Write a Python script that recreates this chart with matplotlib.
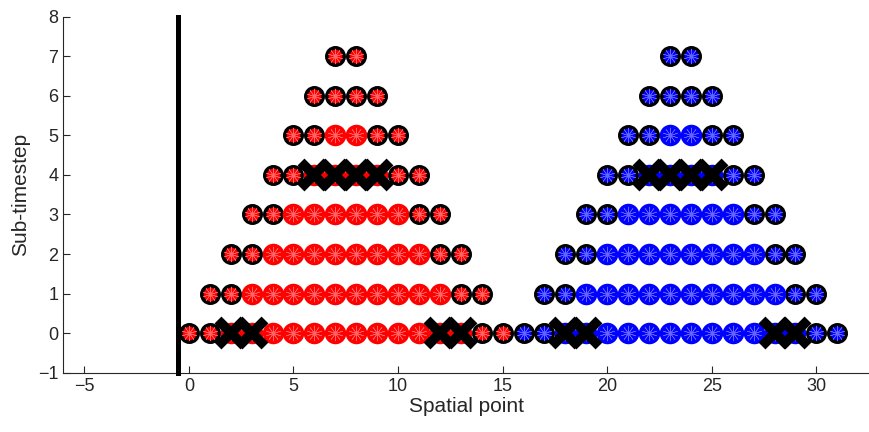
import matplotlib
matplotlib.use("Agg")
import matplotlib.pyplot as plt

plt.rcParams['font.family'] = ['Liberation Sans', 'DejaVu Sans']

# sub-timestep rows and the spatial extent of each row
rows = [0, 1, 2, 3, 4, 5, 6, 7]
red_left = [0, 1, 2, 3, 4, 5, 6, 7]
red_right = [15, 14, 13, 12, 11, 10, 9, 8]
blue_left = [16, 17, 18, 19, 20, 21, 22, 23]
blue_right = [31, 30, 29, 28, 27, 26, 25, 24]

# crossed-out points
red_cross_x = [2, 3, 12, 13, 6, 7, 8, 9]
red_cross_y = [0, 0, 0, 0, 4, 4, 4, 4]
blue_cross_x = [18, 19, 28, 29, 22, 23, 24, 25]
blue_cross_y = [0, 0, 0, 0, 4, 4, 4, 4]

boundary_x = -0.5
xticks = [-5, 0, 5, 10, 15, 20, 25, 30]
yticks = [-1, 0, 1, 2, 3, 4, 5, 6, 7, 8]

GRAY = '#262626'


def split_points(left, right):
    inner_x, inner_y, edge_x, edge_y = [], [], [], []
    for r, a, b in zip(rows, left, right):
        for x in range(a, b + 1):
            if x - a < 2 or b - x < 2:
                edge_x.append(x)
                edge_y.append(r)
            else:
                inner_x.append(x)
                inner_y.append(r)
    return inner_x, inner_y, edge_x, edge_y


def draw_block(ax, left, right, cx, cy, color, spoke):
    inner_x, inner_y, edge_x, edge_y = split_points(left, right)
    ax.plot(edge_x, edge_y, 'o', ms=12.5, mfc=color, mec='black', mew=2.6, zorder=3)
    ax.plot(inner_x, inner_y, 'o', ms=15.5, mfc=color, mec='none', zorder=4)
    all_x = inner_x + edge_x
    all_y = inner_y + edge_y
    ax.plot(all_x, all_y, marker=(10, 2, 0), ls='none', ms=11, mew=0.4,
            color=spoke, zorder=5)
    ax.plot(cx, cy, 'x', ms=19, mew=7, color='black', zorder=6)


fig = plt.figure(figsize=(8.7, 4.32), dpi=100)
ax = fig.add_axes([0.0728, 0.1373, 0.9257, 0.824])

draw_block(ax, red_left, red_right, red_cross_x, red_cross_y, '#ff0000', '#ff6464')
draw_block(ax, blue_left, blue_right, blue_cross_x, blue_cross_y, '#0000ff', '#6464ff')

ax.plot([boundary_x, boundary_x], [-1, 8], color='black', lw=3.6,
        solid_capstyle='projecting', clip_on=False, zorder=7)

ax.set_xlim(-6, 32.5)
ax.set_ylim(-1, 8)
ax.set_xticks(xticks)
ax.set_yticks(yticks)
ax.tick_params(direction='in', length=5, width=0.8, colors=GRAY, labelsize=13,
               top=False, right=False)
for side in ['top', 'right']:
    ax.spines[side].set_visible(False)
for side in ['left', 'bottom']:
    ax.spines[side].set_color(GRAY)
    ax.spines[side].set_linewidth(0.8)

ax.set_xlabel('Spatial point', fontsize=15, color=GRAY, labelpad=2)
ax.set_ylabel('Sub-timestep', fontsize=15, color=GRAY, labelpad=6)

fig.savefig('out.png', dpi=100)
